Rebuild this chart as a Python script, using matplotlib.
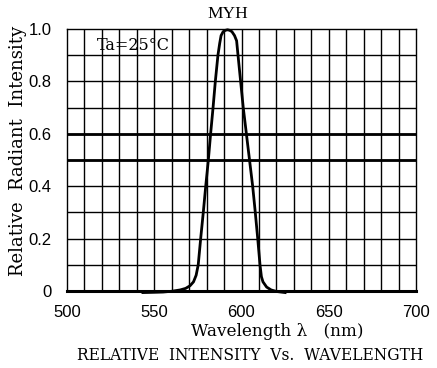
import matplotlib
matplotlib.use("Agg")
import matplotlib.pyplot as plt

wavelength = [543.5, 550, 555, 560, 564.8, 568, 570.5, 572.5, 574.0, 575.2, 576.6, 578.1,
              579.5, 581.0, 582.3, 583.7, 585.0, 586.5, 587.5, 588.3, 589.5, 590.8, 592.0,
              593.2, 594.5, 596.0, 597.2, 598.0, 599.5, 601.0, 602.8, 604.6, 606.4,
              607.9, 609.3, 610.6, 611.4, 612.3, 614.4, 617.0, 620.2, 625.0]
intensity = [-0.006, -0.005, -0.004, -0.001, 0.004, 0.010, 0.020, 0.035, 0.060, 0.100, 0.200, 0.300,
             0.400, 0.500, 0.600, 0.700, 0.800, 0.900, 0.945, 0.975, 0.990, 0.995, 0.997,
             0.995, 0.990, 0.975, 0.955, 0.900, 0.800, 0.700, 0.600, 0.500, 0.400,
             0.300, 0.200, 0.100, 0.055, 0.035, 0.015, 0.004, -0.002, -0.006]

x_ticks = [500, 550, 600, 650, 700]
y_ticks = [0, 0.2, 0.4, 0.6, 0.8, 1.0]
y_tick_labels = ["0", "0.2", "0.4", "0.6", "0.8", "1.0"]
thick_levels = [0.5, 0.6]

fig = plt.figure(figsize=(4.37, 3.68), dpi=100)
ax = fig.add_axes([67/437, 1-291/368, (416-67)/437, (291-29)/368])
ax.set_xlim(500, 700)
ax.set_ylim(0, 1)

for xv in range(510, 700, 10):
    ax.axvline(xv, color="black", lw=1.0, zorder=1)
for i in range(1, 10):
    ax.axhline(i/10, color="black", lw=1.0, zorder=1)
for yv in thick_levels:
    ax.axhline(yv, color="black", lw=2.0, zorder=2)

ax.plot(wavelength, intensity, color="black", lw=2.0, clip_on=False, zorder=3)

for s in ["left", "top", "right"]:
    ax.spines[s].set_linewidth(1.0)
ax.spines["bottom"].set_linewidth(2.2)

ax.set_xticks(x_ticks)
ax.set_yticks(y_ticks)
ax.set_yticklabels(y_tick_labels)
ax.tick_params(length=0, labelsize=12)
ax.tick_params(axis="x", pad=10)
ax.tick_params(axis="y", pad=11)
for lab in ax.get_xticklabels() + ax.get_yticklabels():
    lab.set_fontfamily("Liberation Sans")

serif = "DejaVu Serif"
fig.text(97/437, 1-46/368, "Ta=25\u00b0C", fontsize=11.5, family=serif, va="center", ha="left")
fig.text(228/437, 1-14/368, "MYH", fontsize=12.5, family="Liberation Serif",
         ha="center", va="center")
fig.text(18/437, 1-151/368, "Relative  Radiant  Intensity", fontsize=13, family=serif,
         rotation=90, ha="center", va="center")
fig.text(277/437, 1-331/368, "Wavelength \u03bb   (nm)", fontsize=12.2, family=serif,
         ha="center", va="center")
fig.text(250/437, 1-356/368, "RELATIVE  INTENSITY  Vs.  WAVELENGTH", fontsize=11.2, family=serif,
         ha="center", va="center")

fig.savefig("out.png", dpi=100)
